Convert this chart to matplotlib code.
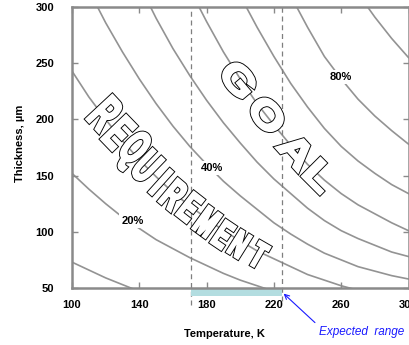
import numpy as np
import matplotlib
matplotlib.use('Agg')
import matplotlib.pyplot as plt
import matplotlib.patheffects as pe
from matplotlib.textpath import TextPath
from matplotlib.patches import PathPatch
from matplotlib.font_manager import FontProperties
from matplotlib.transforms import Affine2D, ScaledTranslation

plt.rcParams['font.family'] = ['Liberation Sans', 'DejaVu Sans']

nan = np.nan

# temperature grid (K) shared by all iso-curves
temps = [100, 110, 120, 130, 140, 150, 160, 170, 180, 190, 200,
         210, 220, 230, 240, 250, 260, 270, 280, 290, 300]

# thickness (um) read along each iso-curve
curve_10 = [73, 66, 59, 53, 47, 42] + [nan] * 15
curve_20 = [152, 138, 125, 113, 103, 93, 85, 77, 70, 63, 57, 52, 47, 43] + [nan] * 7
curve_30 = [243, 220, 200, 181, 164, 149, 135, 123, 112, 101, 92, 83, 76, 69, 62, 57, 52, 48, 45, nan, nan]
curve_40 = [348, 315, 286, 260, 236, 214, 194, 176, 160, 145, 132, 120, 108, 98, 89, 81, 75, 69, 65, 61, 58]
curve_50 = [nan] * 4 + [320, 290, 263, 239, 217, 197, 179, 162, 147, 134, 121, 110, 101, 94, 88, 82, 78]
curve_60 = [nan] * 7 + [316, 287, 260, 236, 214, 195, 177, 160, 146, 134, 124, 116, 108, 101]
curve_70 = [nan] * 10 + [310, 282, 256, 232, 211, 192, 176, 163, 152, 142, 134]
curve_80 = [nan] * 13 + [310, 282, 256, 236, 218, 203, 190, 178]
curve_90 = [nan] * 17 + [312, 291, 272, 255]
curves = [curve_10, curve_20, curve_30, curve_40, curve_50,
          curve_60, curve_70, curve_80, curve_90]

# inline labels on curves
label_texts = ['20%', '40%', '80%']
label_temps = [136, 183, 260]
label_thick = [110, 157, 238]

# expected temperature range
range_lo = 171
range_hi = 225

# outlined words, one entry per letter
req_letters = list('REQUIREMENT')
req_temps = [120.0, 128.0, 135.8, 144.5, 152.8, 160.7, 170.2, 180.3, 190.0, 199.5, 211.0]
req_thick = [205.0, 188.0, 172.5, 158.4, 144.3, 132.8, 121.8, 108.9, 97.4, 89.0, 79.5]
req_angle = [-47, -46, -45, -44, -42, -40, -38, -36, -34, -32, -30]
req_size = [37, 36, 35, 34, 32, 31, 30, 29, 28, 27, 26]

goal_letters = list('GOAL')
goal_temps = [199.0, 216.0, 233.5, 247.5]
goal_thick = [235.5, 204.0, 171.7, 149.6]
goal_angle = [-50, -51, -48, -45]
goal_size = [27, 27, 27, 27]

DPI = 100
fig = plt.figure(figsize=(4.09, 3.45), dpi=DPI)
ax = fig.add_axes([72 / 409, 57 / 345, 336.5 / 409, 281 / 345])

for c in curves:
    ax.plot(temps, c, color='#939393', lw=1.2, zorder=1)

for txt, t, d in zip(label_texts, label_temps, label_thick):
    ax.text(t, d, txt, ha='center', va='center', fontsize=8, fontweight='bold',
            bbox=dict(facecolor='white', edgecolor='none', pad=1.5), zorder=3)

ax.axvline(range_lo, ymin=-0.06, ymax=1, color='#7f7f7f', lw=0.9,
           ls=(0, (4, 3)), clip_on=False, zorder=2)
ax.axvline(range_hi, ymin=-0.045, ymax=1, color='#7f7f7f', lw=0.9,
           ls=(0, (4, 3)), clip_on=False, zorder=2)
ax.axvspan(range_lo, range_hi, ymin=-0.03, ymax=0, facecolor='#b3dde0',
           edgecolor='none', clip_on=False, zorder=2)

ax.annotate('Expected  range', xy=(range_hi + 0.8, 45), xycoords='data',
            xytext=(0.86, -0.157), textcoords='axes fraction',
            ha='center', va='center', fontsize=8.5, style='italic', color='#1a1aff',
            annotation_clip=False,
            arrowprops=dict(arrowstyle='->', color='#1a1aff', lw=0.8,
                            relpos=(0.0, 1.0), shrinkA=1, shrinkB=0))

fp = FontProperties(family='Liberation Sans', weight='bold')


def outlined_letters(letters, ts, ds, angles, sizes, sx):
    # white letters with a thin black outline, slightly emboldened
    for ch, t, d, a, size in zip(letters, ts, ds, angles, sizes):
        path = TextPath((0, 0), ch, size=size, prop=fp)
        ext = path.get_extents()
        cx = (ext.x0 + ext.x1) / 2
        cy = (ext.y0 + ext.y1) / 2
        tr = (Affine2D().translate(-cx, -cy).scale(sx * DPI / 72, DPI / 72)
              .rotate_deg(a) + ScaledTranslation(t, d, ax.transData))
        patch = PathPatch(path, transform=tr, facecolor='white', edgecolor='white',
                          lw=1.8, zorder=4, clip_on=False)
        patch.set_path_effects([pe.Stroke(linewidth=3.1, foreground='black'), pe.Normal()])
        ax.add_patch(patch)


outlined_letters(req_letters, req_temps, req_thick, req_angle, req_size, 0.56)
outlined_letters(goal_letters, goal_temps, goal_thick, goal_angle, goal_size, 1.3)

ax.set_xlim(100, 300)
ax.set_ylim(50, 300)
ax.set_xticks([100, 140, 180, 220, 260, 300])
ax.set_yticks([50, 100, 150, 200, 250, 300])
ax.tick_params(direction='in', length=4, width=1, color='#8a8a8a',
               top=True, right=True, labelsize=8)
ax.tick_params(axis='x', pad=9)
ax.tick_params(axis='y', pad=13)
for lab in ax.get_xticklabels() + ax.get_yticklabels():
    lab.set_fontweight('bold')
for s in ax.spines.values():
    s.set_color('#8a8a8a')
    s.set_linewidth(1.8)

ax.set_xlabel('Temperature, K', fontsize=8, fontweight='bold')
ax.set_ylabel('Thickness, \u00b5m', fontsize=8, fontweight='bold')
ax.xaxis.set_label_coords(0.454, -0.164)
ax.yaxis.set_label_coords(-0.154, 0.516)
ax.xaxis.label.set_va('center')
ax.yaxis.label.set_va('center')

fig.savefig('out.png', dpi=DPI)
